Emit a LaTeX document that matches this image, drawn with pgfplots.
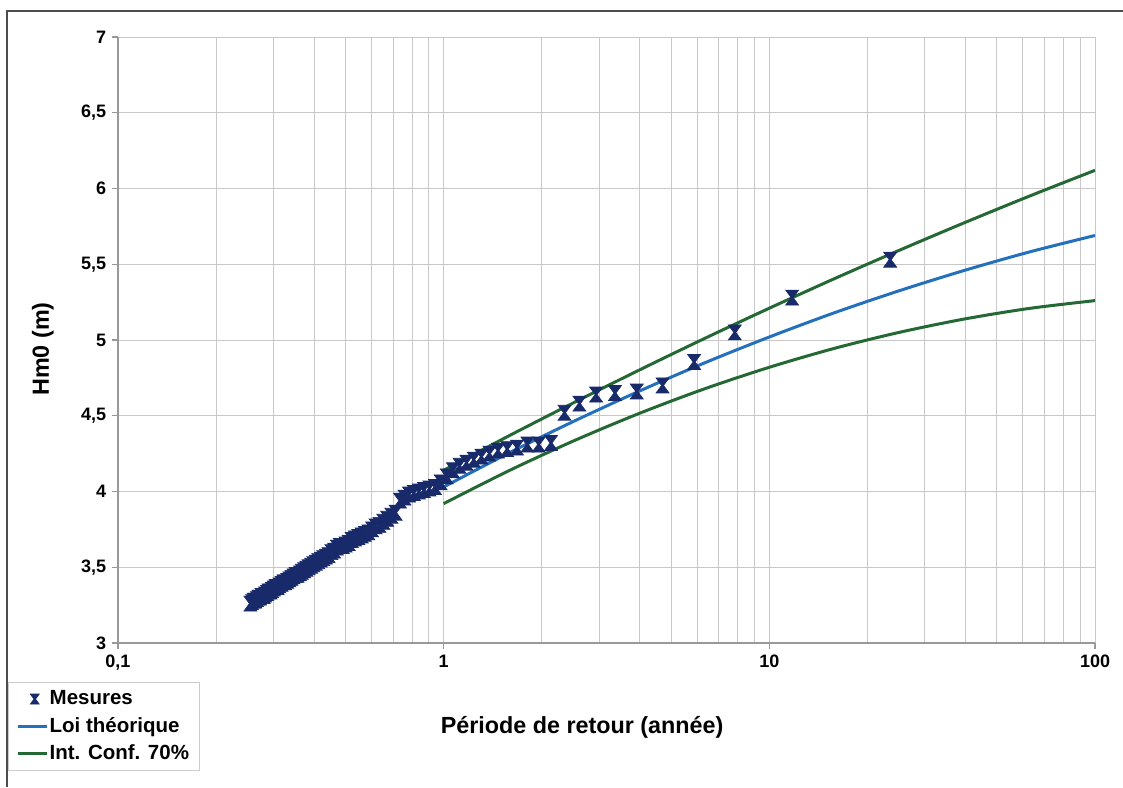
\documentclass[border=0pt]{standalone}
\usepackage{pgfplots}
\pgfplotsset{compat=1.18}
\usepackage{fontspec}
\setmainfont{Liberation Sans}
\definecolor{mesure}{RGB}{24,42,106}
\definecolor{loiblue}{RGB}{36,112,188}
\definecolor{confgreen}{RGB}{36,104,52}
\definecolor{gridc}{RGB}{200,200,200}
\pgfdeclareplotmark{hourglass}{%
 \pgfpathmoveto{\pgfqpoint{-\pgfplotmarksize}{1.15\pgfplotmarksize}}%
 \pgfpathlineto{\pgfqpoint{\pgfplotmarksize}{1.15\pgfplotmarksize}}%
 \pgfpathlineto{\pgfqpoint{0.15\pgfplotmarksize}{0pt}}%
 \pgfpathlineto{\pgfqpoint{\pgfplotmarksize}{-1.15\pgfplotmarksize}}%
 \pgfpathlineto{\pgfqpoint{-\pgfplotmarksize}{-1.15\pgfplotmarksize}}%
 \pgfpathlineto{\pgfqpoint{-0.15\pgfplotmarksize}{0pt}}%
 \pgfpathclose
 \pgfusepathqfillstroke}
\pgfplotsset{
 mylinelegend/.style={legend image code/.code={\draw[##1, line width=1.7pt] (0cm,0cm) -- (0.6cm,0cm);}},
 mymarklegend/.style={legend image code/.code={\draw[##1] plot coordinates {(0.35cm,0cm)};}},
}
\begin{document}
\begin{tikzpicture}
\path[use as bounding box] (0,0) rectangle (673.8pt,472.2pt);
\draw[gray!60!black, line width=1pt] (4.2pt,0pt) -- (4.2pt,465.6pt) -- (673.8pt,465.6pt);
\begin{axis}[
  at={(70.8pt,86.4pt)}, anchor=south west,
  scale only axis, width=586.2pt, height=363.6pt,
  xmode=log, xmin=0.1, xmax=100, ymin=3, ymax=7,
  xtick={0.1,1,10,100}, xticklabels={{0,1},1,10,100},
  ytick={3,3.5,4,4.5,5,5.5,6,6.5,7},
  yticklabels={3,{3,5},4,{4,5},5,{5,5},6,{6,5},7},
  grid=both,
  major grid style={gridc, line width=0.6pt},
  minor grid style={gridc, line width=0.6pt},
  axis x line*=bottom, axis y line*=left,
  axis line style={gray!80, line width=1.2pt, -},
  tick style={gray!80, line width=0.8pt},
  tick align=outside, major tick length=3.6pt, minor tick length=0pt,
  tick label style={font=\bfseries\fontsize{10.8}{12}\selectfont},
  xlabel={Période de retour (année)},
  ylabel={Hm0 (m)},
  label style={font=\bfseries\fontsize{14}{16}\selectfont},
  xlabel style={at={(axis description cs:0.475,-0.14)}, anchor=center},
  ylabel style={at={(axis description cs:-0.077,0.485)}, anchor=center},
  legend style={at={(-0.1126,-0.0644)}, anchor=north west, draw=gray!40, line width=0.5pt,
    font=\bfseries\fontsize{12.3}{14}\selectfont, inner xsep=5pt, inner ysep=3pt,
    row sep=2pt, nodes={inner xsep=1pt}},
  legend cell align=left,
  clip=true,
]
\addlegendimage{only marks, mark=hourglass, mark size=2.6pt, mesure, mymarklegend}
\addlegendentry{Mesures}
\addlegendimage{loiblue, mylinelegend}
\addlegendentry{Loi théorique}
\addlegendimage{confgreen, mylinelegend}
\addlegendentry{Int. Conf. 70\%}

% Loi theorique
\addplot[loiblue, line width=1.8pt, smooth, forget plot] coordinates {
(1,4.03) (1.585,4.254) (2.512,4.464) (3.981,4.662) (6.310,4.848) (10,5.02)
(15.85,5.180) (25.12,5.326) (39.81,5.460) (63.10,5.582) (100,5.69)};
% Int. conf. sup
\addplot[confgreen, line width=1.8pt, smooth, forget plot] coordinates {
(1,4.14) (1.585,4.367) (2.512,4.587) (3.981,4.801) (6.310,5.009) (10,5.21)
(15.85,5.405) (25.12,5.593) (39.81,5.775) (63.10,5.951) (100,6.12)};
% Int. conf. inf
\addplot[confgreen, line width=1.8pt, smooth, forget plot] coordinates {
(1,3.92) (1.585,4.137) (2.512,4.335) (3.981,4.515) (6.310,4.677) (10,4.82)
(15.85,4.945) (25.12,5.051) (39.81,5.139) (63.10,5.209) (100,5.26)};
% Mesures
\addplot[only marks, mark=hourglass, mark size=3.9pt, mesure, forget plot,
  mark options={fill=mesure, draw=mesure, line width=0.4pt}] coordinates {
(23.5,5.53) (11.75,5.28) (7.833,5.05) (5.875,4.855) (4.7,4.70) (3.917,4.66)
(3.357,4.65) (2.938,4.64) (2.611,4.58) (2.35,4.52) (2.136,4.32) (1.958,4.31)
(1.808,4.31) (1.679,4.29) (1.567,4.28) (1.469,4.27) (1.382,4.25) (1.306,4.23)
(1.237,4.21) (1.175,4.19) (1.119,4.17) (1.068,4.14) (1.022,4.10) (0.979,4.06)
(0.94,4.03) (0.904,4.02) (0.870,4.01) (0.839,4.00) (0.810,3.99) (0.783,3.98)
(0.758,3.96) (0.734,3.94) (0.712,3.86) (0.691,3.84) (0.671,3.82) (0.653,3.80)
(0.635,3.78) (0.618,3.77) (0.603,3.75) (0.5875,3.73) (0.573,3.72) (0.560,3.71)
(0.547,3.70) (0.534,3.69) (0.522,3.68) (0.511,3.66) (0.5,3.65) (0.490,3.64)
(0.480,3.64) (0.47,3.63) (0.461,3.61) (0.452,3.60) (0.443,3.58) (0.435,3.57)
(0.427,3.56) (0.420,3.55) (0.412,3.54) (0.405,3.53) (0.398,3.52) (0.392,3.51)
(0.385,3.50) (0.379,3.49) (0.373,3.48) (0.367,3.47) (0.362,3.46) (0.356,3.45)
(0.351,3.45) (0.346,3.44) (0.341,3.43) (0.336,3.42) (0.331,3.41) (0.326,3.40)
(0.322,3.40) (0.318,3.39) (0.313,3.38) (0.309,3.37) (0.305,3.37) (0.301,3.36)
(0.297,3.35) (0.294,3.34) (0.290,3.34) (0.287,3.33) (0.283,3.32) (0.280,3.31)
(0.276,3.31) (0.273,3.30) (0.270,3.30) (0.267,3.29) (0.264,3.28) (0.261,3.28)
(0.258,3.27) (0.255,3.26)};
\end{axis}
\end{tikzpicture}
\end{document}
